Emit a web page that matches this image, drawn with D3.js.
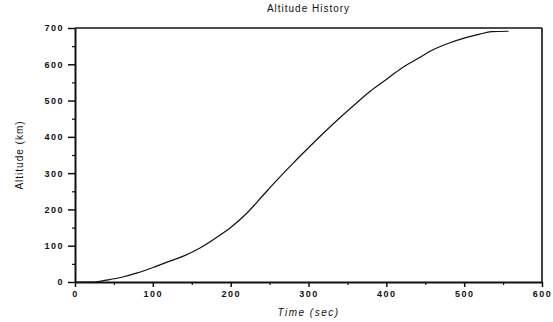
<!DOCTYPE html>
<html>
<head>
<meta charset="utf-8">
<script src="https://cdn.jsdelivr.net/npm/d3@7"></script>
<style>
  body { margin: 0; background: #fff; }
  text { font-family: "Liberation Sans", Arial, sans-serif; fill: #111; }
</style>
</head>
<body>
<div id="chart"></div>
<script>
// data
const timeSec = [0, 25, 40, 60, 80, 100, 120, 140, 160, 180, 200, 220, 240, 260, 280, 300,
  320, 340, 360, 380, 400, 420, 440, 460, 480, 500, 520, 535, 557];
const altitudeKm = [0, 0, 5, 13, 25, 40, 56, 72, 93, 120, 150, 188, 235, 282, 327, 370,
  412, 452, 490, 527, 558, 590, 615, 640, 658, 672, 683, 690, 691];
const xTicks = [0, 100, 200, 300, 400, 500, 600];
const yTicks = [0, 100, 200, 300, 400, 500, 600, 700];

const width = 553, height = 322;
const margin = {top: 28, right: 11, bottom: 40, left: 75};
const w = width - margin.left - margin.right;
const h = height - margin.top - margin.bottom;

const svg = d3.select("#chart").append("svg")
  .attr("width", width)
  .attr("height", height);

const chart = svg.append("g")
  .attr("transform", `translate(${margin.left}, ${margin.top})`);

const x = d3.scaleLinear().domain([0, 600]).range([0, w]);
const y = d3.scaleLinear().domain([0, 700]).range([h, 0]);

// minor ticks
chart.append("g")
  .attr("transform", `translate(0, ${h})`)
  .call(d3.axisBottom(x).tickValues(d3.range(50, 600, 100)).tickSize(3).tickFormat(""))
  .call(g => g.select(".domain").remove())
  .call(g => g.selectAll("line").attr("stroke", "#111").attr("stroke-width", 1.2));
chart.append("g")
  .call(d3.axisLeft(y).tickValues(d3.range(50, 700, 100)).tickSize(3).tickFormat(""))
  .call(g => g.select(".domain").remove())
  .call(g => g.selectAll("line").attr("stroke", "#111").attr("stroke-width", 1.2));

// major axes
const xaxis = chart.append("g")
  .attr("transform", `translate(0, ${h})`)
  .call(d3.axisBottom(x).tickValues(xTicks).tickSize(5).tickPadding(4).tickSizeOuter(0));
const yaxis = chart.append("g")
  .call(d3.axisLeft(y).tickValues(yTicks).tickSize(7).tickPadding(4).tickSizeOuter(0));

[xaxis, yaxis].forEach(g => {
  g.select(".domain").attr("stroke", "#111").attr("stroke-width", 2);
  g.selectAll(".tick line").attr("stroke", "#111").attr("stroke-width", 1.5);
  g.selectAll(".tick text")
    .attr("font-size", "9px")
    .attr("font-weight", "bold")
    .attr("letter-spacing", "1.5px")
    .attr("fill", "#111");
});

// box top and right
chart.append("line").attr("x1", 0).attr("x2", w).attr("y1", 0).attr("y2", 0)
  .attr("stroke", "#111").attr("stroke-width", 1.6);
chart.append("line").attr("x1", w).attr("x2", w).attr("y1", 0).attr("y2", h)
  .attr("stroke", "#111").attr("stroke-width", 1.6);

// curve
const line = d3.line()
  .x((d, i) => x(timeSec[i]))
  .y(d => y(d))
  .curve(d3.curveMonotoneX);

chart.append("path")
  .datum(altitudeKm)
  .attr("d", line)
  .attr("fill", "none")
  .attr("stroke", "#111")
  .attr("stroke-width", 1.2);

// title
svg.append("text")
  .attr("x", margin.left + w / 2)
  .attr("y", 12)
  .attr("text-anchor", "middle")
  .attr("font-size", "10px")
  .attr("letter-spacing", "1px")
  .text("Altitude History");

// x label
svg.append("text")
  .attr("x", margin.left + w / 2)
  .attr("y", 316)
  .attr("text-anchor", "middle")
  .attr("font-size", "10px")
  .attr("font-style", "italic")
  .attr("letter-spacing", "1.5px")
  .text("Time (sec)");

// y label
svg.append("text")
  .attr("transform", "rotate(-90)")
  .attr("x", -(margin.top + h / 2))
  .attr("y", 23)
  .attr("text-anchor", "middle")
  .attr("font-size", "10px")
  .attr("letter-spacing", "1px")
  .text("Altitude (km)");
</script>
</body>
</html>
